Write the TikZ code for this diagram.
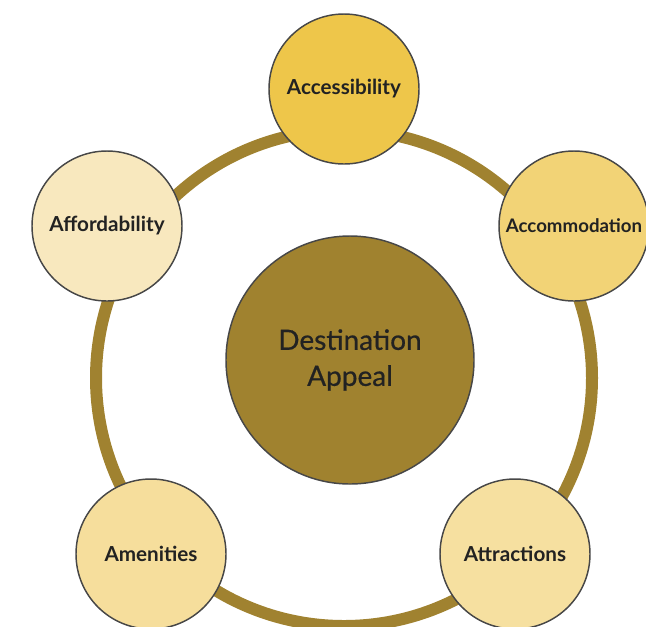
\documentclass[tikz,border=0pt]{standalone}
\usepackage{fontspec}
\setmainfont{Lato}
\newfontfamily\corefont[FakeBold=0.6]{Lato}
\definecolor{ringgold}{HTML}{A08230}
\definecolor{coregold}{HTML}{A0822F}
\definecolor{accessfill}{HTML}{EEC64A}
\definecolor{accomfill}{HTML}{F2D376}
\definecolor{affordfill}{HTML}{F8E8BE}
\definecolor{amenfill}{HTML}{F6DE9C}
\definecolor{attractfill}{HTML}{F6E0A0}
\definecolor{edgegray}{HTML}{474747}
\definecolor{labeltext}{HTML}{222222}

\begin{document}
\begin{tikzpicture}[x=0.75pt, y=-0.75pt]
			% Define styles
			\tikzstyle{factor} = [circle, minimum size=112.5pt, inner sep=0pt, draw=edgegray, line width=1.1pt, text=labeltext, font=\fontsize{15.5}{18}\selectfont\bfseries]
			\tikzstyle{core} = [circle, minimum size=186pt, inner sep=0pt, draw=edgegray, line width=1.1pt, fill=coregold, text=labeltext, align=center, font=\fontsize{21}{27}\corefont]
			\tikzstyle{ring} = [draw=ringgold, line width=9pt]

			\clip (0,0) rectangle (646,626);
			\useasboundingbox (0,0) rectangle (646,626);

			% Ring
			\coordinate (hub) at (344,378);
			\draw [ring] (hub) circle [radius=186pt];

			% Nodes
			\node (appeal) [core] at (350,360) {Destination\\Appeal};
			\node (access) [factor, fill=accessfill] at (344,89) {Accessibility};
			\node (accom) [factor, fill=accomfill, font=\fontsize{14}{17}\selectfont\bfseries] at (574,226) {Accommodation};
			\node (afford) [factor, fill=affordfill] at (107,226) {Affordability};
			\node (amen) [factor, fill=amenfill] at (151,554) {Amenities};
			\node (attract) [factor, fill=attractfill] at (515,554) {Attractions};
		\end{tikzpicture}
\end{document}
